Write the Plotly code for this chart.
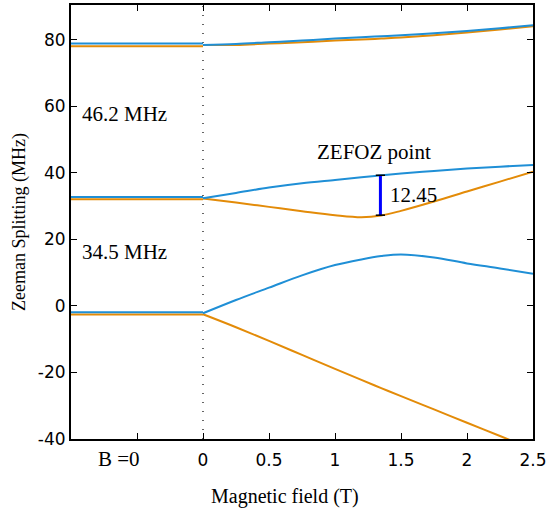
import plotly.graph_objects as go

# ---- data ----
x_left = [-1.0, 0.0]
left_top_blue, left_top_orange = 78.9, 78.1
left_mid_blue, left_mid_orange = 32.8, 32.1
left_low_blue, left_low_orange = -1.9, -2.6

x_right = [0.0, 0.25, 0.5, 0.75, 1.0, 1.2, 1.35, 1.5, 1.75, 2.0, 2.25, 2.5]
top_blue = [78.5, 78.8, 79.3, 79.8, 80.4, 80.8, 81.1, 81.4, 82.0, 82.7, 83.5, 84.4]
top_orange = [78.5, 78.5, 78.9, 79.3, 79.8, 80.1, 80.4, 80.7, 81.4, 82.2, 83.1, 84.1]
mid_blue = [32.4, 34.0, 35.6, 36.9, 37.9, 38.7, 39.3, 39.8, 40.6, 41.3, 41.9, 42.4]
mid_orange = [32.3, 31.1, 29.8, 28.5, 27.3, 26.7, 27.2, 28.6, 31.4, 34.4, 37.4, 40.4]
low_blue = [-2.2, 1.8, 5.5, 9.2, 12.3, 14.0, 15.0, 15.5, 14.6, 12.8, 11.3, 9.7]
low_orange = [-2.5, -6.4, -10.5, -14.7, -18.9, -22.2, -24.7, -27.1, -31.1, -35.1, -39.1, -43.1]

zefoz_x = 1.344
zefoz_top, zefoz_bottom = 39.3, 27.3

x_tickvals = [-0.5, 0, 0.5, 1, 1.5, 2, 2.5]
x_ticktext = ["", "0", "0.5", "1", "1.5", "2", "2.5"]
y_tickvals = [-40, -20, 0, 20, 40, 60, 80]
y_ticktext = ["-40", "-20", "0", "20", "40", "60", "80"]

BLUE = "#1f8fd6"
ORANGE = "#e38b08"
SERIF = "Liberation Serif"

fig = go.Figure()

# dotted vertical line at B = 0
fig.add_trace(go.Scatter(x=[0, 0], y=[-40, 90.5], mode="lines",
                         line=dict(color="black", width=1.2, dash="1px,8px"),
                         hoverinfo="skip", showlegend=False))

for yb, yo in [(left_top_blue, left_top_orange), (left_mid_blue, left_mid_orange),
               (left_low_blue, left_low_orange)]:
    fig.add_trace(go.Scatter(x=x_left, y=[yo, yo], mode="lines",
                             line=dict(color=ORANGE, width=2), showlegend=False))
    fig.add_trace(go.Scatter(x=x_left, y=[yb, yb], mode="lines",
                             line=dict(color=BLUE, width=2), showlegend=False))

for yo, yb in [(top_orange, top_blue), (mid_orange, mid_blue), (low_orange, low_blue)]:
    fig.add_trace(go.Scatter(x=x_right, y=yo, mode="lines", line_shape="spline",
                             line=dict(color=ORANGE, width=2, smoothing=1.0), showlegend=False))
    fig.add_trace(go.Scatter(x=x_right, y=yb, mode="lines", line_shape="spline",
                             line=dict(color=BLUE, width=2, smoothing=1.0), showlegend=False))

# ZEFOZ gap marker
fig.add_trace(go.Scatter(x=[zefoz_x, zefoz_x], y=[zefoz_bottom, zefoz_top], mode="lines",
                         line=dict(color="#0000ff", width=3), showlegend=False))
for yy in (zefoz_bottom, zefoz_top):
    fig.add_trace(go.Scatter(x=[zefoz_x - 0.035, zefoz_x + 0.035], y=[yy, yy], mode="lines",
                             line=dict(color="black", width=1.5), showlegend=False))

ann_font = dict(family=SERIF, size=21, color="black")
fig.add_annotation(x=-0.93, y=57.7, text="46.2 MHz", showarrow=False,
                   xanchor="left", yanchor="middle", font=ann_font)
fig.add_annotation(x=-0.93, y=16.3, text="34.5 MHz", showarrow=False,
                   xanchor="left", yanchor="middle", font=ann_font)
fig.add_annotation(x=1.297, y=46.3, text="ZEFOZ point", showarrow=False,
                   xanchor="center", yanchor="middle", font=ann_font)
fig.add_annotation(x=1.40, y=33.5, text="12.45", showarrow=False,
                   xanchor="left", yanchor="middle", font=ann_font)
fig.add_annotation(x=-0.637, y=-0.046, yref="paper", text="B =0", showarrow=False,
                   xanchor="center", yanchor="middle", font=ann_font)
# x-axis title (placed as in the reference, slightly left of centre)
fig.add_annotation(x=0.463, y=-0.133, xref="paper", yref="paper", text="Magnetic field (T)",
                   showarrow=False, xanchor="center", yanchor="middle",
                   font=dict(family=SERIF, size=20, color="black"))

axis_common = dict(showline=True, linecolor="black", linewidth=2, mirror="ticks",
                   ticks="inside", ticklen=6, tickwidth=1.2, tickcolor="black",
                   showgrid=False, zeroline=False,
                   tickfont=dict(family="DejaVu Sans", size=17, color="black"))

fig.update_layout(
    width=550, height=517,
    margin=dict(l=71, r=15, t=3, b=78),
    paper_bgcolor="white", plot_bgcolor="white",
    xaxis=dict(range=[-1, 2.5], tickmode="array", tickvals=x_tickvals, ticktext=x_ticktext,
               ticklabelstandoff=5, **axis_common),
    yaxis=dict(range=[-40, 90.5], tickmode="array", tickvals=y_tickvals, ticktext=y_ticktext,
               title=dict(text="Zeeman Splitting (MHz)", font=dict(family=SERIF, size=18, color="black"),
                          standoff=8),
               **axis_common),
)

fig.write_html("out.html")
